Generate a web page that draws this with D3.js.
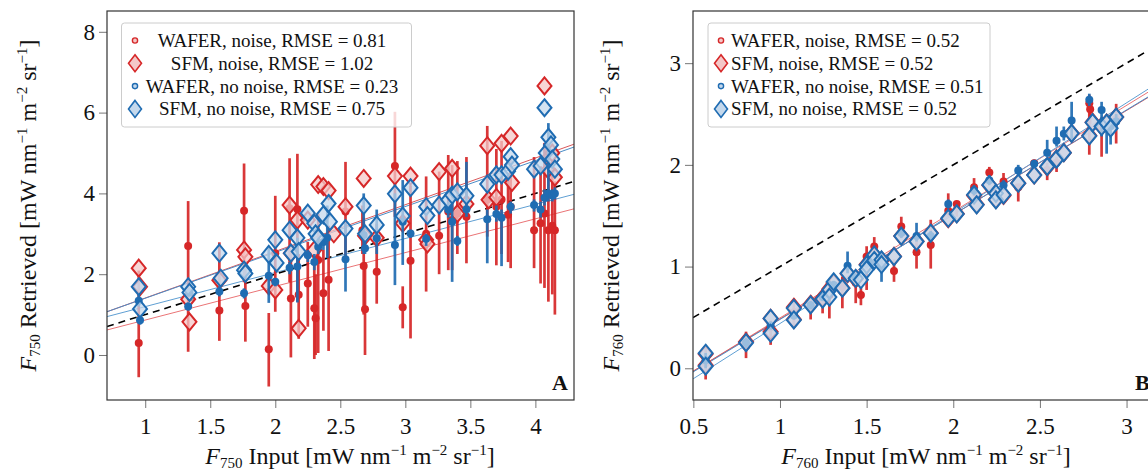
<!DOCTYPE html>
<html lang="en">
<head>
<meta charset="UTF-8">
<script src="https://d3js.org/d3.v7.min.js"></script>
<style>
    body { margin: 0; background: #fff; }
    svg text { font-family: 'Liberation Serif', 'Times New Roman', serif; fill: #111; }
    .axis .tick line { stroke: #777; }
    .axis .domain { display: none; }
</style>
</head>
<body>
<svg id="viz" width="1148" height="470"></svg>
<script>

// ---- panel A data: [input, retrieved, barLow, barHigh] ----
var waferNoiseA = [
    [0.95, 0.30, -0.55, 2.09], [1.33, 2.70, 0.08, 3.81], [1.57, 1.10, 0.35, 2.79],
    [1.76, 3.57, 1.80, 4.74], [1.77, 1.21, 0.33, 2.20], [1.95, 0.14, -0.78, 1.04],
    [2.00, 2.52, 1.07, 3.94], [2.11, 3.63, 1.80, 4.87], [2.12, 1.40, -0.06, 2.60],
    [2.17, 3.61, 1.32, 4.98], [2.18, 1.49, 0.40, 2.50], [2.25, 1.77, 0.70, 2.80],
    [2.30, 1.16, -0.10, 2.40], [2.31, 0.91, 0.00, 2.00], [2.33, 2.35, 0.05, 3.50],
    [2.37, 1.53, 0.60, 2.60], [2.41, 1.86, 0.10, 3.20], [2.54, 3.55, 2.40, 4.78],
    [2.67, 3.09, 2.50, 3.70], [2.68, 2.20, 1.00, 3.40], [2.69, 1.13, 0.00, 2.30],
    [2.78, 2.06, 1.27, 3.25], [2.92, 4.68, 3.42, 6.02], [2.98, 1.18, 0.66, 1.70],
    [3.04, 2.33, 0.41, 4.20], [3.16, 3.00, 1.57, 4.42], [3.26, 2.95, 2.00, 4.54],
    [3.33, 3.55, 2.10, 4.95], [3.36, 3.34, 2.10, 4.70], [3.40, 3.50, 2.50, 4.80],
    [3.47, 3.42, 2.27, 4.90], [3.63, 3.84, 2.93, 5.67], [3.70, 3.67, 2.22, 5.10],
    [3.74, 3.85, 2.50, 5.30], [3.79, 3.47, 2.30, 4.50], [3.81, 3.67, 2.15, 4.87],
    [3.99, 3.09, 2.15, 4.90], [4.04, 3.26, 1.77, 4.67], [4.07, 3.50, 1.66, 5.25],
    [4.10, 3.09, 1.32, 4.60], [4.13, 3.20, 1.50, 4.80], [4.15, 3.09, 1.00, 4.30]
];
var sfmNoiseA = [
    [0.95, 2.15], [0.96, 1.69], [1.33, 1.38], [1.34, 0.82], [1.57, 1.85], [1.76, 2.60],
    [1.77, 2.43], [1.95, 1.71], [2.00, 1.61], [2.11, 3.71], [2.12, 2.52], [2.17, 3.34],
    [2.18, 0.66], [2.25, 3.34], [2.30, 2.60], [2.33, 4.22], [2.37, 4.17], [2.41, 4.07],
    [2.45, 3.00], [2.54, 3.67], [2.68, 4.37], [2.69, 2.95], [2.78, 2.90], [2.92, 4.43],
    [2.98, 3.26], [3.04, 4.43], [3.16, 2.85], [3.17, 2.75], [3.26, 4.54], [3.36, 4.62],
    [3.40, 3.50], [3.47, 3.74], [3.63, 5.18], [3.64, 3.84], [3.70, 3.90], [3.74, 5.24],
    [3.81, 5.42], [3.82, 4.27], [4.07, 6.66], [4.10, 4.58], [4.13, 5.00], [4.15, 4.40]
];
var waferCleanA = [
    [0.95, 1.34, 1.20, 1.50], [0.96, 0.86, 0.75, 1.00], [1.33, 1.20, 1.10, 1.30],
    [1.34, 1.55, 1.45, 1.65], [1.57, 1.57, 1.45, 1.70], [1.76, 1.53, 1.40, 1.65],
    [1.95, 1.96, 1.29, 2.68], [2.00, 1.81, 1.70, 1.90], [2.11, 2.16, 2.00, 2.30],
    [2.17, 2.19, 1.30, 2.90], [2.25, 2.47, 2.30, 2.60], [2.30, 2.30, 2.10, 2.50],
    [2.33, 2.68, 2.50, 2.90], [2.37, 2.80, 2.60, 3.00], [2.40, 2.90, 2.40, 3.70],
    [2.54, 2.37, 1.57, 3.27], [2.68, 2.97, 2.50, 4.00], [2.69, 2.64, 2.50, 2.80],
    [2.78, 2.89, 2.50, 3.60], [2.92, 2.72, 1.73, 4.00], [2.98, 3.30, 2.23, 4.33],
    [3.04, 3.01, 2.90, 3.10], [3.16, 2.88, 2.70, 3.00], [3.33, 3.60, 3.40, 3.80],
    [3.36, 3.30, 1.81, 3.90], [3.40, 2.82, 2.70, 2.95], [3.47, 3.61, 3.42, 4.78],
    [3.63, 3.36, 2.27, 3.60], [3.70, 3.49, 3.30, 3.70], [3.74, 3.40, 2.20, 3.60],
    [3.81, 3.67, 3.50, 3.80], [3.99, 3.71, 3.55, 3.85], [4.04, 3.60, 3.40, 3.80],
    [4.07, 3.89, 3.70, 4.10], [4.10, 4.00, 3.80, 5.74], [4.13, 3.95, 3.80, 4.10],
    [4.15, 4.00, 3.85, 4.15]
];
var sfmCleanA = [
    [0.95, 1.69], [0.96, 1.14], [1.33, 1.69], [1.34, 1.55], [1.57, 2.52], [1.58, 1.90],
    [1.76, 2.10], [1.77, 2.02], [1.95, 2.49], [2.00, 2.85], [2.01, 2.28], [2.11, 3.09],
    [2.12, 2.52], [2.17, 2.90], [2.18, 2.56], [2.25, 3.51], [2.30, 3.26], [2.31, 3.00],
    [2.33, 2.90], [2.37, 3.47], [2.41, 3.75], [2.42, 3.30], [2.54, 3.13], [2.68, 3.70],
    [2.69, 3.00], [2.78, 3.22], [2.92, 3.99], [2.98, 3.44], [3.04, 4.14], [3.16, 3.67],
    [3.17, 3.45], [3.26, 3.71], [3.33, 3.84], [3.36, 3.96], [3.40, 4.04], [3.47, 3.94],
    [3.63, 4.23], [3.70, 4.46], [3.74, 4.46], [3.79, 4.55], [3.81, 4.91], [3.82, 4.70],
    [3.99, 4.60], [4.04, 4.68], [4.07, 6.12], [4.08, 5.00], [4.10, 5.39], [4.12, 5.20],
    [4.13, 4.85], [4.15, 4.60]
];

// ---- panel B data ----
var waferNoiseB = [
    [0.571, 0.05, -0.11, 0.21], [0.804, 0.22, 0.10, 0.36], [0.946, 0.40, 0.23, 0.47],
    [1.08, 0.55, 0.41, 0.67], [1.177, 0.62, 0.48, 0.69], [1.246, 0.68, 0.54, 0.77],
    [1.285, 0.72, 0.49, 0.77], [1.36, 0.80, 0.59, 0.90], [1.437, 0.84, 0.64, 0.90],
    [1.467, 0.72, 0.62, 0.80], [1.50, 1.10, 0.77, 1.20], [1.544, 1.197, 1.03, 1.29],
    [1.658, 0.957, 0.85, 1.07], [1.70, 1.393, 1.31, 1.49], [1.788, 1.14, 0.98, 1.26],
    [1.87, 1.213, 0.98, 1.46], [1.971, 1.55, 1.49, 1.72], [2.02, 1.616, 1.49, 1.64],
    [2.12, 1.78, 1.69, 1.87], [2.208, 1.925, 1.90, 1.98], [2.29, 1.836, 1.82, 1.92],
    [2.375, 1.78, 1.64, 1.79], [2.467, 2.016, 1.95, 2.05], [2.542, 1.95, 1.85, 2.02],
    [2.596, 2.02, 1.93, 2.08], [2.785, 2.607, 2.10, 2.69], [2.79, 2.548, 2.40, 2.65],
    [2.856, 2.35, 2.08, 2.43], [2.94, 2.45, 2.21, 2.60]
];
var sfmNoiseB = [
    [0.571, 0.14], [0.571, 0.03], [0.804, 0.26], [0.946, 0.49], [0.946, 0.36], [1.08, 0.60],
    [1.08, 0.48], [1.177, 0.63], [1.246, 0.69], [1.285, 0.78], [1.31, 0.84], [1.36, 0.79],
    [1.39, 0.93], [1.437, 0.88], [1.50, 1.02], [1.544, 1.11], [1.586, 1.06], [1.658, 1.10],
    [1.70, 1.30], [1.788, 1.25], [1.87, 1.33], [1.971, 1.47], [2.02, 1.52], [2.12, 1.70],
    [2.135, 1.61], [2.208, 1.80], [2.246, 1.66], [2.29, 1.70], [2.375, 1.82], [2.467, 1.90],
    [2.542, 1.98], [2.596, 2.06], [2.638, 2.12], [2.683, 2.31], [2.785, 2.29], [2.804, 2.42],
    [2.856, 2.38], [2.885, 2.41], [2.94, 2.47]
];
var waferCleanB = [
    [0.571, 0.08, 0.00, 0.15], [0.804, 0.25, 0.20, 0.30], [0.946, 0.42, 0.38, 0.46],
    [1.08, 0.52, 0.48, 0.56], [1.177, 0.62, 0.58, 0.66], [1.246, 0.70, 0.66, 0.74],
    [1.31, 0.82, 0.78, 0.86], [1.39, 1.007, 0.934, 1.148], [1.437, 0.89, 0.85, 0.93],
    [1.50, 1.03, 0.98, 1.08], [1.586, 1.00, 0.85, 1.13], [1.70, 1.33, 1.28, 1.38],
    [1.788, 1.30, 1.246, 1.43], [1.87, 1.30, 1.25, 1.35], [1.971, 1.616, 1.57, 1.66],
    [2.12, 1.75, 1.70, 1.80], [2.208, 1.85, 1.80, 1.90], [2.29, 1.80, 1.75, 1.85],
    [2.375, 1.944, 1.885, 2.00], [2.467, 2.01, 1.97, 2.05], [2.542, 2.12, 2.08, 2.246],
    [2.596, 2.236, 2.18, 2.377], [2.638, 2.305, 2.24, 2.377], [2.683, 2.436, 2.246, 2.62],
    [2.785, 2.64, 2.58, 2.70], [2.856, 2.54, 2.28, 2.62], [2.885, 2.36, 2.11, 2.41],
    [2.908, 2.38, 2.20, 2.41], [2.94, 2.426, 2.35, 2.50]
];
var sfmCleanB = [
    [0.571, 0.148], [0.571, 0.02], [0.804, 0.252], [0.946, 0.49], [0.946, 0.344], [1.08, 0.59],
    [1.08, 0.475], [1.177, 0.623], [1.246, 0.68], [1.285, 0.77], [1.285, 0.70], [1.31, 0.85],
    [1.36, 0.787], [1.39, 0.934], [1.437, 0.885], [1.467, 0.87], [1.50, 1.016], [1.50, 0.97],
    [1.544, 1.115], [1.544, 1.06], [1.586, 1.066], [1.586, 1.02], [1.658, 1.098], [1.70, 1.30],
    [1.788, 1.246], [1.87, 1.328], [1.971, 1.475], [2.02, 1.518], [2.12, 1.705], [2.135, 1.607],
    [2.208, 1.803], [2.246, 1.72], [2.246, 1.656], [2.29, 1.705], [2.375, 1.82], [2.467, 1.90],
    [2.542, 1.984], [2.596, 2.056], [2.638, 2.12], [2.683, 2.31], [2.785, 2.285], [2.804, 2.416],
    [2.856, 2.377], [2.885, 2.41], [2.908, 2.36], [2.94, 2.47]
];

// fitted lines [slope, intercept], order: wafer noise, sfm noise, wafer clean, sfm clean
var fitsA = [[0.835, 0.03], [1.155, 0.255], [0.843, 0.355], [1.135, 0.27]];
var fitsB = [[1.045, -0.55], [1.025, -0.54], [1.085, -0.645], [1.03, -0.55]];

var xTicksA = [1, 1.5, 2, 2.5, 3, 3.5, 4];
var yTicksA = [0, 2, 4, 6, 8];
var xTicksB = [0.5, 1, 1.5, 2, 2.5, 3];
var yTicksB = [0, 1, 2, 3];

var legendA = ["WAFER, noise, RMSE = 0.81", "SFM, noise, RMSE = 1.02",
               "WAFER, no noise, RMSE = 0.23", "SFM, no noise, RMSE = 0.75"];
var legendB = ["WAFER, noise, RMSE = 0.52", "SFM, noise, RMSE = 0.52",
               "WAFER, no noise, RMSE = 0.51", "SFM, no noise, RMSE = 0.52"];

var RED = "#d62728", BLUE = "#1f6cb2";
var RED_FILL = "#f4c8c8", BLUE_FILL = "#c4d8ec";
var lineColors = ["#ea7476", "#d9585a", "#5f9fd3", "#4b8cc6"];

var svg = d3.select("#viz");

function diamond(cx, cy, w, h) {
    return "M" + cx + "," + (cy - h) + "L" + (cx + w) + "," + cy + "L" + cx + "," + (cy + h) + "L" + (cx - w) + "," + cy + "Z";
}

// F_sub word [mW nm^-1 m^-2 sr^-1]
function label(g, sub, word) {
    g.append("tspan").attr("font-style", "italic").text("F");
    g.append("tspan").attr("font-size", "15px").attr("dy", 4).text(sub);
    g.append("tspan").attr("dy", -4).text(" " + word + " [mW nm");
    g.append("tspan").attr("font-size", "15px").attr("dy", -9).text("\u22121");
    g.append("tspan").attr("dy", 9).text(" m");
    g.append("tspan").attr("font-size", "15px").attr("dy", -9).text("\u22122");
    g.append("tspan").attr("dy", 9).text(" sr");
    g.append("tspan").attr("font-size", "15px").attr("dy", -9).text("\u22121");
    g.append("tspan").attr("dy", 9).text("]");
}

function panel(p) {
    var x = d3.scaleLinear().domain(p.xDomain).range([p.left, p.right]);
    var y = d3.scaleLinear().domain(p.yDomain).range([p.bottom, p.top]);
    var g = svg.append("g");

    var clipId = "clip" + p.letter;
    svg.append("clipPath").attr("id", clipId).append("rect")
        .attr("x", p.left).attr("y", p.top)
        .attr("width", p.right - p.left).attr("height", p.bottom - p.top);

    var plot = g.append("g").attr("clip-path", "url(#" + clipId + ")");

    // fits and 1:1 line
    p.fits.forEach(function(f, i) {
        plot.append("line")
            .attr("x1", x(p.xDomain[0])).attr("y1", y(f[0] * p.xDomain[0] + f[1]))
            .attr("x2", x(p.xDomain[1])).attr("y2", y(f[0] * p.xDomain[1] + f[1]))
            .attr("stroke", lineColors[i]).attr("stroke-width", 1);
    });
    plot.append("line")
        .attr("x1", x(p.xDomain[0])).attr("y1", y(p.xDomain[0]))
        .attr("x2", x(p.xDomain[1])).attr("y2", y(p.xDomain[1]))
        .attr("stroke", "#000").attr("stroke-width", 1.6).attr("stroke-dasharray", "7,5");

    function wafer(data, color) {
        plot.append("g").selectAll("line").data(data).enter().append("line")
            .attr("x1", function(d) { return x(d[0]); }).attr("x2", function(d) { return x(d[0]); })
            .attr("y1", function(d) { return y(d[2]); }).attr("y2", function(d) { return y(d[3]); })
            .attr("stroke", color).attr("stroke-width", 2.7).attr("opacity", 0.92);
        plot.append("g").selectAll("circle").data(data).enter().append("circle")
            .attr("cx", function(d) { return x(d[0]); }).attr("cy", function(d) { return y(d[1]); })
            .attr("r", 4).attr("fill", color);
    }
    function sfm(data, color, fill) {
        plot.append("g").selectAll("path").data(data).enter().append("path")
            .attr("d", function(d) { return diamond(x(d[0]), y(d[1]), 7, 8.5); })
            .attr("fill", fill).attr("fill-opacity", 0.75)
            .attr("stroke", color).attr("stroke-width", 2);
    }
    wafer(p.waferNoise, RED);
    sfm(p.sfmNoise, RED, RED_FILL);
    wafer(p.waferClean, BLUE);
    sfm(p.sfmClean, BLUE, BLUE_FILL);

    // axes
    g.append("g").attr("class", "axis")
        .attr("transform", "translate(0," + p.bottom + ")")
        .call(d3.axisBottom(x).tickValues(p.xTicks).tickSize(8).tickPadding(10).tickFormat(d3.format("")))
        .selectAll("text").attr("font-size", "23px").attr("font-family", "Liberation Serif");
    g.append("g").attr("class", "axis")
        .attr("transform", "translate(" + p.left + ",0)")
        .call(d3.axisLeft(y).tickValues(p.yTicks).tickSize(8).tickPadding(4).tickFormat(d3.format("")))
        .selectAll("text").attr("font-size", "23px").attr("font-family", "Liberation Serif");

    g.append("rect")
        .attr("x", p.left).attr("y", p.top)
        .attr("width", p.right - p.left).attr("height", p.bottom - p.top)
        .attr("fill", "none").attr("stroke", "#333").attr("stroke-width", 1.2);

    var xl = g.append("text").attr("x", p.xLabelX)
        .attr("y", 464).attr("text-anchor", "middle").attr("font-size", "24px");
    label(xl, p.sub, "Input");
    var yl = g.append("text").attr("transform", "translate(" + p.yLabelX + "," + ((p.top + p.bottom) / 2) + ") rotate(-90)")
        .attr("text-anchor", "middle").attr("font-size", "24px");
    label(yl, p.sub, "Retrieved");

    g.append("text").attr("x", p.letterX).attr("y", 390)
        .attr("font-size", "22px").attr("font-weight", "bold").text(p.letter);

    // legend
    var lg = g.append("g");
    lg.append("rect").attr("x", p.leg.x).attr("y", p.leg.y)
        .attr("width", p.leg.w).attr("height", p.leg.h).attr("rx", 3)
        .attr("fill", "#fff").attr("fill-opacity", 0.8).attr("stroke", "#ccc");
    var rows = [[RED, RED_FILL, "dot"], [RED, RED_FILL, "dia"], [BLUE, BLUE_FILL, "dot"], [BLUE, BLUE_FILL, "dia"]];
    rows.forEach(function(r, i) {
        var cy = p.leg.y + 17.5 + i * 22.8;
        if (r[2] == "dot") {
            lg.append("circle").attr("cx", p.leg.mx).attr("cy", cy).attr("r", 2.6)
                .attr("fill", r[1]).attr("stroke", r[0]).attr("stroke-width", 1.4);
        } else {
            lg.append("path").attr("d", diamond(p.leg.mx, cy, 6.5, 8.5))
                .attr("fill", r[1]).attr("stroke", r[0]).attr("stroke-width", 1.6);
        }
        lg.append("text").attr("x", p.leg.tx).attr("y", cy + 6.5)
            .attr("text-anchor", p.leg.anchor).attr("font-size", "19px").text(p.legend[i]);
    });
}

panel({
    letter: "A", sub: "750", left: 107, right: 574, top: 11, bottom: 400,
    xDomain: [0.706, 4.297], yDomain: [-1.114, 8.515], xTicks: xTicksA, yTicks: yTicksA,
    waferNoise: waferNoiseA, sfmNoise: sfmNoiseA, waferClean: waferCleanA, sfmClean: sfmCleanA,
    fits: fitsA, legend: legendA, yLabelX: 36, xLabelX: 350, letterX: 552,
    leg: {x: 121.5, y: 23, w: 290, h: 104, mx: 135, tx: 272, anchor: "middle"}
});
panel({
    letter: "B", sub: "760", left: 693, right: 1160, top: 11, bottom: 400,
    xDomain: [0.498, 3.193], yDomain: [-0.312, 3.513], xTicks: xTicksB, yTicks: yTicksB,
    waferNoise: waferNoiseB, sfmNoise: sfmNoiseB, waferClean: waferCleanB, sfmClean: sfmCleanB,
    fits: fitsB, legend: legendB, yLabelX: 619, xLabelX: 926, letterX: 1135,
    leg: {x: 708, y: 23, w: 282, h: 104, mx: 721, tx: 731, anchor: "start"}
});
</script>
</body>
</html>
